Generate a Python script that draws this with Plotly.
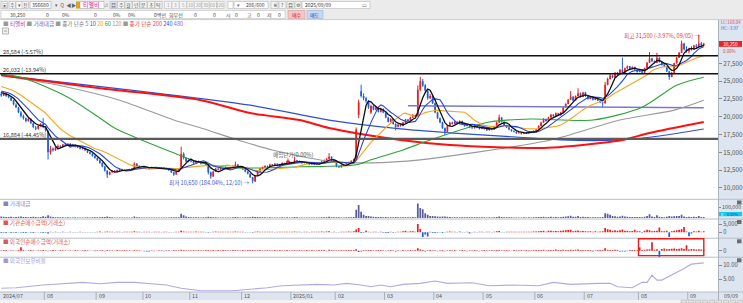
import plotly.graph_objects as go
import pandas as pd

W, H = 743, 303
PLOT_R = 718
PX_PER_BAR = 2.465

# ---------------- data ----------------
month_labels = ["2024/07", "08", "09", "10", "11", "12", "2025/01", "02", "03", "04", "05", "06", "07", "08", "09"]
month_days = [18, 21, 19, 19, 21, 20, 18, 20, 20, 20, 21, 20, 22, 20, 7]
last_date_label = "09/09"

open_ = [
    23200, 23000, 23300, 22900, 22700, 22300, 21700, 21300, 20600, 20100, 19800, 19400, 19700, 19100, 18500, 18300, 18700, 19000,
    18500, 17900, 15000, 15500, 15300, 15700, 15900, 15800, 16100, 16000, 16200, 15950, 16050, 15850, 15700, 15500, 15600, 15300, 15000, 14800, 14500,
    14200, 13900, 13500, 13000, 12400, 11900, 12200, 12400, 12300, 12500, 12600, 12450, 12550, 12500, 12650, 12700, 13400, 13100, 12900,
    12950, 12800, 12850, 12750, 12900, 12800, 12700, 12750, 12850, 12800, 12700, 12500, 12200, 11900, 12300, 12700, 14800, 14200, 13700,
    13900, 13700, 13500, 13800, 13600, 13400, 13600, 13200, 12200, 11600, 12300, 12700, 12600, 12800, 12700, 12900, 12750, 12800, 13100, 13300, 13000,
    12900, 12600, 12300, 12000, 11500, 10900, 11700, 12300, 12700, 12900, 13100, 13000, 13300, 13200, 13400, 13100, 13300, 13500, 13400, 13700,
    13500, 13600, 13900, 13800, 13700, 13500, 13600, 13400, 13300, 13450, 13250, 13300, 13500, 13700, 13900, 14100, 14400, 13900,
    13600, 13000, 12900, 13200, 13300, 13500, 13600, 13800, 14000, 20300, 23600, 22900, 22600, 22200, 20600, 21500, 21000, 21300, 20700, 21100,
    20600, 19900, 19300, 19700, 19000, 18600, 18900, 18700, 19200, 19600, 19400, 19900, 20200, 20100, 23800, 25000, 24400, 23700, 22600, 22900,
    21900, 20600, 19800, 19200, 18400, 17900, 18700, 19200, 19000, 19300, 19100, 19400, 19000, 18700, 18900, 18500, 18400, 18700, 18500, 18300,
    18500, 18300, 18100, 18400, 18200, 18600, 19200, 19900, 19300, 18800, 18500, 18200, 18000, 17900, 17700, 17800, 17600, 17800, 17700, 17900, 17800,
    18000, 18200, 18700, 19200, 19700, 19400, 19900, 20300, 20100, 20500, 20200, 20600, 21300, 21800, 22400, 22800, 22300, 22900, 23300, 22800,
    23400, 22900, 22500, 22800, 22400, 22700, 22300, 22000, 21900, 24500, 25300, 25800, 25500, 26200, 26000, 26600, 26100, 26800, 27100, 26700, 27000, 26600,
    26300, 26500, 26200, 26800, 27600, 28200, 27800, 27600, 28300, 27700, 27300, 27100, 26400, 25600, 26200, 27500, 28300, 29000, 30300, 29500,
    29200, 29600, 29400, 30000, 29800, 30300, 30000,
]
high_ = [
    23500, 23500, 23400, 23100, 22800, 22400, 21900, 21400, 20800, 20300, 19900, 19900, 19800, 19200, 18700, 18800, 19100, 19800,
    18700, 18100, 15900, 15700, 15800, 16100, 16000, 16200, 16300, 16300, 16300, 16200, 16100, 15900, 15800, 15700, 15700, 15400, 15100, 14900, 14600,
    14300, 14000, 13600, 13100, 12500, 12300, 12500, 12500, 12600, 12700, 12700, 12600, 12600, 12700, 12800, 13600, 13500, 13200, 13000,
    13000, 12950, 12900, 13000, 12950, 12850, 12800, 12900, 12900, 12850, 12750, 12550, 12250, 12400, 12700, 15800, 15000, 14300, 14000,
    14000, 13800, 13900, 13850, 13650, 13700, 13650, 13300, 12300, 12400, 12800, 12800, 12900, 12850, 13000, 12950, 12900, 13200, 13700, 13350, 13050,
    12950, 12650, 12350, 12050, 11550, 11800, 12400, 12800, 13000, 13200, 13150, 13400, 13350, 13500, 13450, 13400, 13600, 13550, 13800, 13750,
    13700, 14350, 13950, 13850, 13750, 13700, 13650, 13450, 13550, 13500, 13400, 13600, 13800, 14000, 14200, 14900, 14450, 13950,
    13650, 13100, 13300, 13400, 13600, 13700, 13900, 14100, 18500, 22400, 24500, 23300, 22800, 22300, 21700, 21600, 21500, 21400, 21300, 21200,
    20700, 20000, 19800, 19750, 19100, 19000, 19000, 19300, 19700, 19700, 20000, 20400, 20300, 24400, 25600, 25300, 24600, 23800, 23200, 23000,
    22000, 20700, 19900, 19300, 18500, 18800, 19300, 19300, 19400, 19350, 19500, 19450, 19050, 19000, 18950, 18600, 18800, 18750, 18550, 18600,
    18550, 18350, 18500, 18450, 18700, 19300, 20300, 19950, 19350, 18850, 18550, 18250, 18100, 17950, 17900, 17850, 17900, 17850, 18000, 17950, 18100,
    18300, 18800, 19300, 19800, 19750, 20000, 20400, 20350, 20600, 20550, 20700, 21400, 21900, 22500, 23600, 22900, 23000, 24000, 23400, 23500,
    23500, 23000, 22900, 22850, 22800, 22750, 22350, 22050, 24900, 25500, 26000, 25900, 26300, 26300, 26700, 28300, 26900, 27200, 27150, 27100, 27050, 26700,
    26600, 26550, 26900, 27700, 29100, 28300, 27900, 29000, 28350, 27750, 27400, 27150, 26450, 26300, 27600, 28400, 29100, 30700, 30400, 29900,
    29700, 29900, 30100, 30200, 31500, 30500, 30400,
]
low_ = [
    22800, 22900, 22800, 22600, 22200, 21600, 21200, 20500, 19900, 19600, 19200, 19300, 19000, 18400, 18100, 18200, 18600, 18400,
    17900, 14000, 14700, 15100, 15200, 15600, 15600, 15700, 15900, 15900, 15800, 15900, 15700, 15600, 15400, 15400, 15200, 14900, 14700, 14400, 14100,
    13800, 13400, 12900, 12300, 11400, 11800, 12100, 12200, 12200, 12400, 12400, 12400, 12400, 12450, 12600, 12650, 13000, 12800, 12800,
    12700, 12750, 12700, 12700, 12750, 12650, 12650, 12700, 12750, 12650, 12400, 12100, 11700, 11850, 12250, 12600, 14000, 13600, 13600,
    13600, 13400, 13450, 13500, 13300, 13350, 13200, 11900, 11300, 11550, 12250, 12500, 12550, 12600, 12650, 12700, 12700, 12750, 13050, 12950, 12850,
    12500, 12200, 11900, 11400, 10650, 10850, 11650, 12250, 12600, 12850, 12900, 12950, 13100, 13150, 13000, 13050, 13250, 13300, 13350, 13400,
    13450, 13550, 13700, 13600, 13400, 13450, 13350, 13200, 13250, 13200, 13200, 13250, 13450, 13650, 13850, 14050, 13800, 13500,
    12900, 12800, 12850, 13150, 13250, 13400, 13550, 13750, 13900, 19800, 22700, 22300, 21900, 21100, 20400, 20900, 20900, 20600, 20600, 20500,
    19800, 19200, 19200, 18900, 18100, 18500, 18600, 18650, 19100, 19300, 19350, 19850, 19900, 20000, 23600, 24200, 23500, 22400, 22500, 21800,
    20500, 19700, 19100, 18300, 17400, 17850, 18650, 18900, 18950, 19000, 19050, 18900, 18600, 18650, 18400, 18300, 18350, 18400, 18200, 18250,
    18200, 18000, 18050, 18100, 18150, 18550, 19150, 19200, 18700, 18400, 18100, 17900, 17800, 17600, 17650, 17500, 17550, 17600, 17650, 17700, 17750,
    17950, 18150, 18650, 19150, 19300, 19350, 19850, 20000, 20050, 20100, 20150, 20550, 21250, 21750, 22350, 22200, 22250, 22850, 22700, 22750,
    22800, 22400, 22450, 22300, 22350, 22200, 21900, 21300, 21850, 24400, 25200, 25400, 25450, 25900, 25950, 26000, 26050, 26700, 26600, 26650, 26500, 26200,
    26250, 26100, 26150, 26750, 27550, 27700, 27500, 27550, 27600, 27200, 27000, 26300, 25200, 25550, 26150, 27450, 28250, 28950, 29300, 29000,
    28900, 29300, 29350, 29600, 29700, 29900, 29900,
]
close_ = [
    23000, 23300, 22900, 22750, 22300, 21750, 21350, 20650, 20100, 19800, 19400, 19700, 19100, 18550, 18300, 18700, 19000, 18600,
    18100, 15000, 15500, 15300, 15700, 15900, 15800, 16100, 16000, 16200, 15950, 16050, 15850, 15700, 15500, 15600, 15300, 15000, 14800, 14500, 14200,
    13900, 13500, 13000, 12400, 11900, 12200, 12400, 12300, 12500, 12600, 12450, 12550, 12500, 12650, 12700, 13400, 13100, 12900, 12950,
    12800, 12850, 12750, 12900, 12800, 12700, 12750, 12850, 12800, 12700, 12500, 12200, 11900, 12300, 12600, 14800, 14200, 13700, 13900,
    13700, 13500, 13800, 13600, 13400, 13600, 13300, 12200, 11600, 12300, 12700, 12600, 12800, 12700, 12900, 12750, 12800, 13100, 13300, 13000, 12900,
    12600, 12300, 12000, 11500, 11000, 11700, 12300, 12700, 12900, 13100, 13000, 13300, 13200, 13400, 13100, 13300, 13500, 13400, 13700, 13500,
    13600, 13900, 13800, 13700, 13500, 13600, 13400, 13300, 13450, 13250, 13300, 13500, 13700, 13900, 14100, 14400, 13900, 13600,
    13000, 12900, 13200, 13300, 13500, 13600, 13800, 14000, 18200, 22000, 22900, 22600, 22200, 21300, 21500, 21000, 21300, 20700, 21100, 20600,
    19900, 19300, 19700, 19000, 18600, 18900, 18700, 19200, 19600, 19400, 19900, 20200, 20000, 23800, 25000, 24400, 23700, 22600, 22900, 21900,
    20600, 19800, 19200, 18400, 17900, 18700, 19200, 19000, 19300, 19100, 19400, 19000, 18700, 18900, 18500, 18400, 18700, 18500, 18300, 18500,
    18300, 18100, 18400, 18200, 18600, 19200, 19900, 19300, 18800, 18500, 18200, 18000, 17900, 17700, 17800, 17600, 17800, 17700, 17900, 17800, 18000,
    18200, 18700, 19200, 19700, 19400, 19900, 20300, 20100, 20500, 20200, 20600, 21300, 21800, 22400, 22800, 22300, 22900, 23300, 22800, 23400,
    22900, 22500, 22800, 22400, 22700, 22300, 22000, 21900, 24500, 25300, 25800, 25500, 26200, 26000, 26600, 26100, 26800, 27100, 26700, 27000, 26600, 26300,
    26500, 26200, 26800, 27600, 28200, 27800, 27600, 28300, 27700, 27300, 27100, 26400, 25600, 26200, 27500, 28300, 29000, 30300, 29500, 29200,
    29600, 29400, 30000, 29800, 30300, 30000, 30250,
]
prior_closes = [25200, 25000, 25300, 24900, 24800, 25000, 24700, 24600, 24800, 24400,
                24100, 23900, 24000, 23700, 23600, 23800, 23500, 23300, 23400]

# long moving averages (bar index, price)
ma60_idx = [0, 8, 27, 40, 46, 54, 67, 81, 94, 121, 144, 150, 163, 174, 198, 215, 240, 260, 274, 285]
ma60_val = [25960, 25540, 22750, 19820, 18420, 17160, 15345, 13530, 12830, 12970, 13250, 13950, 15345, 16740, 19260, 19680, 19540, 21350, 24430, 25540]
ma120_idx = [0, 27, 48, 70, 81, 96, 110, 135, 150, 170, 191, 223, 251, 273, 285]
ma120_val = [25824, 24150, 22330, 19540, 18420, 16740, 15345, 13670, 13530, 13950, 14930, 16740, 19540, 20930, 22330]
ma200_idx = [0, 40, 81, 101, 121, 133, 162, 182, 220, 243, 252, 263, 285]
ma200_val = [25824, 24010, 22330, 20515, 19540, 18420, 16740, 16045, 15625, 16320, 16740, 17720, 19260]
ma240_idx = [0, 101, 133, 162, 182, 215, 227, 251, 267, 285]
ma240_val = [25824, 21630, 19540, 18300, 17750, 17020, 16740, 16740, 17300, 18280]
ma480_idx = [165, 285]
ma480_val = [21550, 21250]

support_levels = [28584, 26032, 16884]
support_labels = ["28,584 (-5.57%)", "26,032 (-13.94%)", "16,884 (-44.45%)"]

volume = [
    15000, 12000, 10000, 9000, 11000, 8000, 9000, 12000, 14000, 10000, 9000, 8000, 10000, 12000, 9000, 8000, 9000, 16000,
    12000, 25000, 15000, 9000, 8000, 7000, 6000, 6000, 5000, 6000, 5000, 5000, 6000, 5000, 5000, 4000, 5000, 6000, 5000, 6000, 7000,
    7000, 8000, 9000, 10000, 14000, 9000, 7000, 5000, 5000, 4000, 4000, 4000, 4000, 5000, 5000, 15000, 8000, 6000, 5000,
    4000, 4000, 4000, 5000, 4000, 4000, 4000, 4000, 4000, 4000, 5000, 6000, 8000, 6000, 8000, 40000, 25000, 15000, 10000,
    8000, 7000, 7000, 6000, 5000, 6000, 6000, 12000, 10000, 8000, 7000, 5000, 5000, 4000, 5000, 4000, 4000, 6000, 9000, 6000, 5000,
    5000, 6000, 6000, 8000, 12000, 10000, 9000, 8000, 6000, 6000, 5000, 6000, 5000, 5000, 4000, 5000, 6000, 5000, 7000, 5000,
    5000, 9000, 6000, 5000, 5000, 5000, 4000, 4000, 5000, 4000, 4000, 5000, 6000, 7000, 8000, 12000, 8000, 6000,
    7000, 6000, 5000, 5000, 6000, 6000, 7000, 9000, 80000, 125000, 60000, 30000, 20000, 18000, 15000, 12000, 10000, 9000, 9000, 8000,
    9000, 8000, 7000, 8000, 9000, 7000, 6000, 7000, 8000, 6000, 8000, 9000, 7000, 140000, 95000, 85000, 45000, 30000, 20000, 18000,
    16000, 14000, 12000, 13000, 15000, 11000, 10000, 8000, 8000, 7000, 8000, 7000, 7000, 6000, 6000, 6000, 7000, 6000, 6000, 6000,
    6000, 5000, 6000, 5000, 7000, 10000, 15000, 9000, 8000, 7000, 6000, 6000, 5000, 5000, 5000, 5000, 6000, 5000, 6000, 5000, 6000,
    7000, 9000, 10000, 12000, 8000, 10000, 11000, 8000, 10000, 8000, 9000, 12000, 14000, 16000, 22000, 12000, 12000, 18000, 10000, 12000,
    10000, 9000, 8000, 7000, 8000, 7000, 8000, 10000, 45000, 40000, 30000, 18000, 16000, 12000, 14000, 22000, 14000, 12000, 10000, 10000, 9000, 9000,
    9000, 8000, 12000, 18000, 35000, 15000, 10000, 25000, 12000, 9000, 8000, 12000, 18000, 14000, 16000, 20000, 18000, 30000, 14000, 10000,
    12000, 9000, 12000, 10000, 18000, 10000, 9000,
]
inst_net = [
    -600, -400, -500, -300, -600, -400, -500, -300, -400, -600, -500, -300, -400, -500, -300, -200, -400, -500,
    -400, -800, 300, -300, 200, -300, -200, 200, -300, -200, 200, -300, -200, -300, 200, -200, -300, -200, -300, -200, -300,
    300, 400, -300, 300, 400, 300, 200, -200, 300, 200, -200, 300, 200, 300, 200, 600, 300, 200, -200,
    200, 300, 200, -200, 300, 200, 200, -200, 300, 200, -300, -200, -300, 300, 200, 800, 400, 300, 200,
    300, 200, 400, 300, 200, 300, -300, -400, -300, 300, 400, 300, 200, 300, 200, 300, 200, 300, 400, 200, 300,
    200, -200, -300, -300, -400, 300, 400, 300, 200, 300, 200, 300, 200, -200, 300, 200, 300, 200, 300, 200,
    300, 400, 200, 300, -200, 300, 200, -200, 200, 300, 200, 300, 400, 300, 400, 500, -300, 200,
    -300, -200, 300, 200, 300, 400, 300, 500, 1600, 2500, -600, -400, 800, 300, -300, 200, 300, -200, 300, -400,
    -600, -500, 300, -400, -300, 300, 200, 600, 800, 300, 500, 600, 300, 5000, 2000, -3000, -1500, -2700, 300, -600,
    -500, -400, -300, -600, -300, 300, 400, 200, 300, -200, 400, -300, -200, 300, -800, -300, 200, -200, 300, 200,
    -200, 300, 200, -200, 300, 500, 700, -300, -200, 300, 200, 300, 200, 300, 200, 300, 200, 300, 200, 300, 400,
    400, 600, 700, 800, 300, 900, 800, 500, 700, 600, 800, 1000, 1200, 1300, 1500, 600, 800, 1000, 500, 700,
    500, 400, 600, 300, 500, 300, 400, 600, 2500, 1800, 1500, 800, 1200, 900, 1100, 1600, 800, 900, 600, 700, 1400, 500,
    600, -400, 800, 1400, 1200, 500, 700, 900, 2800, 600, 500, 800, -3000, 500, 900, 1200, 1500, 1800, 3100, 400,
    -2500, -800, 600, 400, 800, 300, 500,
]
foreign_net = [
    500, 700, 600, -400, 500, 400, 300, 800, 3500, 600, -300, 500, 700, 400, -300, 500, 400, 600,
    400, -600, 500, 700, 400, -300, 600, 500, 400, -400, 500, 300, 600, 500, -300, 400, 600, 500, -400, -300, 400,
    500, 400, 600, -500, 700, 500, 400, 300, 600, 500, 400, 600, 500, 400, 300, 800, 500, 400, 300,
    -600, -800, -700, 400, -500, 300, 500, 400, -600, 400, 500, 300, 600, 500, 400, 900, 700, 500, 400,
    500, 600, 400, 700, 500, 400, 600, 800, 500, 700, 400, 600, 500, 700, 600, 400, 500, 600, 700, 500, 400,
    600, 500, 700, 600, 800, 500, 700, 600, 500, 400, 600, 500, 400, 600, 500, 700, 400, 500, 600, 500,
    500, 800, 400, 600, 500, 400, 700, 500, 600, 400, 500, 600, 800, 700, -500, 900, 600, 500,
    400, 500, 600, 500, 700, 600, 800, 700, 1500, -1200, -800, 600, 500, 700, 600, 400, 500, 700, 600, 500,
    -500, 400, 600, 500, -700, 400, 300, 600, 500, 400, 600, 500, 700, 2500, 1200, 800, -700, 500, 600, 400,
    500, -600, 400, 600, -500, 400, 700, 500, 600, -400, 500, 600, 400, -600, 500, 400, 600, 500, -500, 400,
    600, 500, 400, 700, 500, 600, 800, 500, 400, 600, 500, -400, 600, 500, 400, 600, 500, 700, 400, 500, 600,
    600, 800, 700, 900, 500, 700, 800, 600, 1200, 700, 800, 900, 700, 800, 1000, 700, 900, 1100, 600, 800,
    700, 800, 600, -700, 500, 700, 600, 800, 2500, 1000, 800, 700, 900, 600, -800, -900, -700, -600, 700, 800, 600, 500,
    3500, 800, 900, 1200, 1500, 8500, 1000, 1500, -6500, 1800, 2200, 1500, 1800, 2000, 2200, 1800, 2000, 2500, 1800, 5500,
    1200, 1800, 1500, 1200, 1500, 1300, 1000,
]
own_idx = [0, 4, 6, 17, 27, 33, 40, 47, 54, 60, 67, 73, 81, 94, 101, 108, 114, 121, 128, 135, 140, 146, 150,
           154, 158, 163, 170, 176, 181, 191, 198, 207, 218, 224, 231, 242, 247, 250, 256, 260, 262, 264, 266, 268, 272, 277, 280, 285]
own_val = [1.68, 1.68, 1.89, 2.86, 3.46, 3.82, 3.32, 3.82, 3.82, 3.32, 2.86, 1.68, 0.82, 0.82, 1.32, 1.89, 2.61, 2.86, 3.11, 2.86, 3.46, 2.86, 2.25,
           2.86, 2.25, 3.11, 3.46, 4.29, 3.46, 3.68, 2.61, 2.86, 2.61, 3.82, 3.11, 3.46, 3.46, 2.25, 1.89, 3.82, 3.82, 6.43, 4.64, 4.64, 6.43, 8.82, 10.36, 10.82]

# ---------------- helpers ----------------
n = min(len(open_), len(high_), len(low_), len(close_))
x_lo = -0.5
x_hi = PLOT_R / PX_PER_BAR - 0.5


def px(x):
    return x / W


def py(y):
    return 1 - y / H


def idx_px(i):
    return (i - x_lo) / (x_hi - x_lo) * PLOT_R


PRICE_RANGE = [8407, 33592]
UP = "#ee1c1c"
DN = "#1e5ee6"
FONT = "Noto Sans CJK KR"

fig = go.Figure()

# ---------------- candles ----------------
wu_x, wu_y, wd_x, wd_y = [], [], [], []
bu_x, bu_b, bu_h, bd_x, bd_b, bd_h = [], [], [], [], [], []
for i in range(n):
    o, h, l, c = open_[i], high_[i], low_[i], close_[i]
    body = max(abs(c - o), 70)
    if c >= o:
        wu_x += [i, i, None]; wu_y += [l, h, None]
        bu_x.append(i); bu_b.append(min(o, c)); bu_h.append(body)
    else:
        wd_x += [i, i, None]; wd_y += [l, h, None]
        bd_x.append(i); bd_b.append(min(o, c)); bd_h.append(body)

fig.add_trace(go.Scatter(x=wu_x, y=wu_y, mode="lines", line=dict(color=UP, width=1), hoverinfo="skip"))
fig.add_trace(go.Scatter(x=wd_x, y=wd_y, mode="lines", line=dict(color=DN, width=1), hoverinfo="skip"))
fig.add_trace(go.Bar(x=bu_x, y=bu_h, base=bu_b, width=0.7, marker=dict(color=UP, line=dict(width=0)), hoverinfo="skip"))
fig.add_trace(go.Bar(x=bd_x, y=bd_h, base=bd_b, width=0.7, marker=dict(color=DN, line=dict(width=0)), hoverinfo="skip"))

# ---------------- moving averages ----------------
for xs, ys, col, w in [
    (ma480_idx, ma480_val, "#7b78c8", 1.5),
    (ma120_idx, ma120_val, "#9a9a9a", 1.1),
    (ma240_idx, ma240_val, "#2f4fd0", 1.2),
    (ma200_idx, ma200_val, "#ff1010", 2.0),
    (ma60_idx, ma60_val, "#2ea33a", 1.1),
]:
    fig.add_trace(go.Scatter(x=xs, y=ys, mode="lines", line=dict(color=col, width=w, shape="spline", smoothing=0.8),
                             hoverinfo="skip"))

s = pd.Series(prior_closes + close_[:n])
short_ma = {p: s.rolling(p, min_periods=1).mean().iloc[len(prior_closes):].tolist() for p in (5, 10, 20)}
for p, col, w in [(20, "#f2a81d", 1.1), (10, "#2445e0", 1.1), (5, "#111111", 1.3)]:
    fig.add_trace(go.Scatter(x=list(range(n)), y=short_ma[p], mode="lines", line=dict(color=col, width=w),
                             hoverinfo="skip"))

# ---------------- sub panels ----------------
fig.add_trace(go.Bar(x=list(range(len(volume))), y=volume, width=0.7, marker=dict(color="#5b5b9d", line=dict(width=0)),
                     xaxis="x2", yaxis="y2", hoverinfo="skip"))
fig.add_trace(go.Bar(x=list(range(len(inst_net))), y=inst_net, width=0.7,
                     marker=dict(color=[UP if v >= 0 else DN for v in inst_net], line=dict(width=0)),
                     xaxis="x3", yaxis="y3", hoverinfo="skip"))
fig.add_trace(go.Bar(x=list(range(len(foreign_net))), y=foreign_net, width=0.7,
                     marker=dict(color=[UP if v >= 0 else DN for v in foreign_net], line=dict(width=0)),
                     xaxis="x4", yaxis="y4", hoverinfo="skip"))
fig.add_trace(go.Scatter(x=own_idx, y=own_val, mode="lines", line=dict(color="#b3a8e6", width=1.1),
                         xaxis="x5", yaxis="y5", hoverinfo="skip"))

# ---------------- shapes & annotations ----------------
shapes, ann = [], []


def rect(x0, y0, x1, y1, fill=None, line=None, lw=0.7):
    shapes.append(dict(type="rect", xref="paper", yref="paper", x0=px(x0), x1=px(x1), y0=py(y1), y1=py(y0),
                       fillcolor=fill or "rgba(0,0,0,0)",
                       line=dict(color=line or "rgba(0,0,0,0)", width=lw if line else 0)))


def seg(x0, y0, x1, y1, color, w=1):
    shapes.append(dict(type="line", xref="paper", yref="paper", x0=px(x0), x1=px(x1), y0=py(y0), y1=py(y1),
                       line=dict(color=color, width=w)))


def text(x, y, s, color="#444", size=6, anchor="left"):
    ann.append(dict(xref="paper", yref="paper", x=px(x), y=py(y), text=s, showarrow=False, xanchor=anchor,
                    yanchor="middle", font=dict(size=size, color=color, family=FONT), borderpad=0))


# toolbar
rect(0, 0, W, 20, fill="#ebebeb")
seg(0, 19.6, W, 19.6, "#c4c4c4", 0.8)
for x0, ch in [(1, "▣"), (9, "주"), (16, "▾"), (22, "전")]:
    rect(x0, 1.5, x0 + 6.5, 8.5, fill="#f8f8f8", line="#aaaaaa", lw=0.5)
    text(x0 + 3.3, 5, ch, "#555", 5, "center")
rect(30, 1.5, 51, 8.5, fill="#ffffff", line="#9a9a9a", lw=0.5)
text(31, 5, "356680", "#333", 5)
text(54, 5, "▾  Q  ◀▶", "#666", 5)
rect(76, 1.5, 80, 8.5, fill="#d8a520")
rect(80, 1.5, 104, 8.5, fill="#ffffff", line="#9a9a9a", lw=0.5)
text(82, 5, "티엘비", "#d2238f", 6)
text(106.5, 5, "⊿", "#888", 4, "center")
bx = 110
for ch in ["目", "주", "월", "년", "분", "초", "틱"]:
    rect(bx, 1.5, bx + 7, 8.5, fill="#f4f4f4" if ch != "目" else "#dfe7f5", line="#a8a8a8", lw=0.5)
    text(bx + 3.5, 5, ch, "#555", 5, "center")
    bx += 7.5
bx += 2
for ch in ["1", "3", "5", "10", "20", "30", "60", "120"]:
    rect(bx, 1.5, bx + 7, 8.5, fill="#f4f4f4", line="#bbbbbb", lw=0.5)
    text(bx + 3.5, 5, ch, "#999", 4.5, "center")
    bx += 7.5
rect(228, 1.5, 233, 8.5, fill="#ffffff", line="#aaaaaa", lw=0.5)
rect(234, 1.5, 268, 8.5, fill="#ffffff", line="#aaaaaa", lw=0.5)
text(236, 5, "▾", "#666", 5)
text(266, 5, "286/600", "#444", 5, "right")
for x0, ch in [(271, "₩"), (279, "?"), (287, "目")]:
    rect(x0, 1.5, x0 + 7, 8.5, fill="#f4f4f4", line="#aaaaaa", lw=0.5)
    text(x0 + 3.5, 5, ch, "#555", 5, "center")
rect(295, 1.5, 301, 8.5, fill="#f4f4f4", line="#aaaaaa", lw=0.5)
text(298, 5, "⚙", "#555", 5, "center")
rect(302, 1.5, 370, 8.5, fill="#ffffff", line="#aaaaaa", lw=0.5)
text(304, 5, "2025/09/09", "#333", 5)
text(368, 5, "▭", "#666", 5, "right")
rect(1, 10.5, 285, 18.5, fill="#ffffff", line="#b8b8b8", lw=0.5)
for x0, s in [(17, "30,250"), (47, "0"), (66, "0%"), (95, "0"), (117, "0%"), (132, "0%"), (160, "0백만"),
              (176, "회무선"), (195, "0"), (214, "0"), (228, "시"), (236, "0"), (249, "고"), (258, "0"),
              (269, "저"), (279, "0")]:
    text(x0, 14.6, s, "#444", 5, "center")
rect(288, 10.5, 305, 18.5, fill="#f5c6c6", line="#d09090", lw=0.5)
text(296.5, 14.6, "매수", "#c02020", 5, "center")
rect(307, 10.5, 323, 18.5, fill="#c9d8f3", line="#8ea6d0", lw=0.5)
text(315, 14.6, "매도", "#2040a0", 5, "center")

# panel separators
for yy in [199.3, 219, 238.2, 257.2, 292]:
    seg(0, yy, W, yy, "#b9bec6", 1)
seg(PLOT_R + 0.5, 20, PLOT_R + 0.5, 300, "#a9b1bd", 1)
for yy in [200.5, 220, 239.3, 258.3]:
    rect(737, yy, 741.5, yy + 4, fill="#6d6d6d")

# support / resistance lines
for lvl, lab, col, w in zip(support_levels, support_labels, ["#111111", "#111111", "#5a5a5a"], [1.5, 1.5, 2.2]):
    shapes.append(dict(type="line", xref="paper", yref="y", x0=0, x1=px(PLOT_R), y0=lvl, y1=lvl,
                       line=dict(color=col, width=w)))
    ypix = 20 + (PRICE_RANGE[1] - lvl) / (PRICE_RANGE[1] - PRICE_RANGE[0]) * 179
    text(1.5, ypix - 4, lab, "#333", 5.6)

# legend line
legend_html = ('<span style="color:#999">■</span> <span style="color:#9b3fb5">티엘비</span> '
               '<span style="color:#999">■</span> <span style="color:#5c5cd6">거래대금</span> '
               '<span style="color:#999">■</span> <span style="color:#777">종가 단순 5</span> '
               '<span style="color:#3050e0">10</span> <span style="color:#f0a020">20</span> '
               '<span style="color:#30a030">60</span> <span style="color:#999">120</span> '
               '<span style="color:#999">■</span> <span style="color:#e04040">종가 단순 200</span> '
               '<span style="color:#3050e0">240</span> <span style="color:#8a6ad0">480</span>')
text(1.5, 23.5, legend_html, "#777", 5.6)
rect(2.5, 28, 8.5, 34, fill="#f2f2f2", line="#888888", lw=0.6)
seg(4, 31, 7, 31, "#666666", 0.6)

# high / low / purchase-price notes
text(701, 35.5, "최고 31,500 (-3.97%, 09/05) →", "#e23a3a", 5.6, "right")
text(251, 183.3, "최저 10,650 (184.04%, 12/10) →", "#3a55e0", 5.6, "right")
text(272, 154.5, "매입단가(0.00%)", "#555", 5.6)
ann.append(dict(xref="paper", yref="paper", x=px(288), y=py(164), ax=0, ay=-7, text="", showarrow=True,
                arrowhead=2, arrowsize=0.7, arrowwidth=1, arrowcolor="#e02020"))

# right axis markers
text(720, 22, "LC:168.04", "#e04848", 4.4)
text(720, 27.6, "HC:-3.97", "#4565d0", 4.4)
rect(719, 41, 742, 46.8, fill="#ee2222")
text(730.5, 43.9, "30,250", "#ffffff", 4.8, "center")
text(722, 51.2, "0.00%", "#e04848", 4.4)
rect(719, 212, 742, 216.2, fill="#14c8f0")
text(720.3, 214.2, "0", "#ffffff", 3.8)
text(725.5, 214.2, "0.00%", "#1a4fb0", 3.8)

# sub panel titles
text(1.5, 203.5, "■ 거래대금", "#8585b5", 5.6)
text(1.5, 222.8, "■ 기관순매수금액(거래소)", "#e05555", 5.6)
text(1.5, 241.8, "■ 외국인순매수금액(거래소)", "#e05555", 5.6)
text(1.5, 261, "■ 외국인보유비율", "#a696d8", 5.6)

# red box in foreign panel
rect(638.5, 238.8, 703.8, 255.6, line="#f01818", lw=1.4)

# date bar
start = 0
for lab, d in zip(month_labels, month_days):
    xp = idx_px(start - 0.5)
    if start > 0:
        seg(xp, 292, xp, 300, "#9aa3ae", 0.8)
    text(xp + 1.5, 296, lab, "#555", 5.4)
    start += d
text(723, 296, last_date_label, "#555", 5.4)
rect(0, 300, W, H, fill="#f2f2f2")
for x0 in [681, 688, 695, 702, 709, 716, 723, 730, 737]:
    rect(x0, 300.3, x0 + 5.5, 303, fill="#e4e4e4", line="#9a9a9a", lw=0.4)

# ---------------- layout ----------------
xax = dict(range=[x_lo, x_hi], showgrid=False, zeroline=False, showticklabels=False, ticks="", showline=False,
           fixedrange=True, domain=[0, px(PLOT_R)])


def yax(top, bot, rng, vals, texts, anchor, fs=6.3, tl=3):
    return dict(domain=[py(bot), py(top)], range=rng, side="right", anchor=anchor, tickmode="array",
                tickvals=vals, ticktext=texts, ticks="outside", ticklen=tl, tickwidth=1, tickcolor="#8a8a8a",
                tickfont=dict(size=fs, color="#555", family=FONT), showgrid=False, zeroline=False,
                showline=False, fixedrange=True, automargin=False)


price_ticks = [10000, 12500, 15000, 17500, 20000, 22500, 25000, 27500]
layout = dict(
    width=W, height=H, margin=dict(l=0, r=0, t=0, b=0), template="none",
    paper_bgcolor="#dce5f0", plot_bgcolor="#ffffff", showlegend=False, barmode="overlay",
    font=dict(family=FONT, size=6, color="#444"), hovermode=False,
    xaxis=dict(xax, anchor="y"),
    xaxis2=dict(xax, anchor="y2"),
    xaxis3=dict(xax, anchor="y3"),
    xaxis4=dict(xax, anchor="y4"),
    xaxis5=dict(xax, anchor="y5"),
    yaxis=yax(20, 199.3, PRICE_RANGE, price_ticks, [f"{v:,}" for v in price_ticks], "x"),
    yaxis2=yax(199.3, 219, [-10000, 180000], [100000], ["100,000"], "x2", 5.3, 2),
    yaxis3=yax(219, 238.2, [-3750, 8125], [5000, 0], ["5,000", "0"], "x3", 5.8),
    yaxis4=yax(238.2, 257.2, [-6500, 12500], [0], ["0"], "x4", 5.8),
    yaxis5=yax(257.2, 292, [0.357, 12.857], [10, 5], ["10.00", "5.00"], "x5", 5.8),
    shapes=shapes, annotations=ann,
)
fig.update_layout(**layout)
fig.write_html("out.html", config={"displayModeBar": False, "staticPlot": True})
